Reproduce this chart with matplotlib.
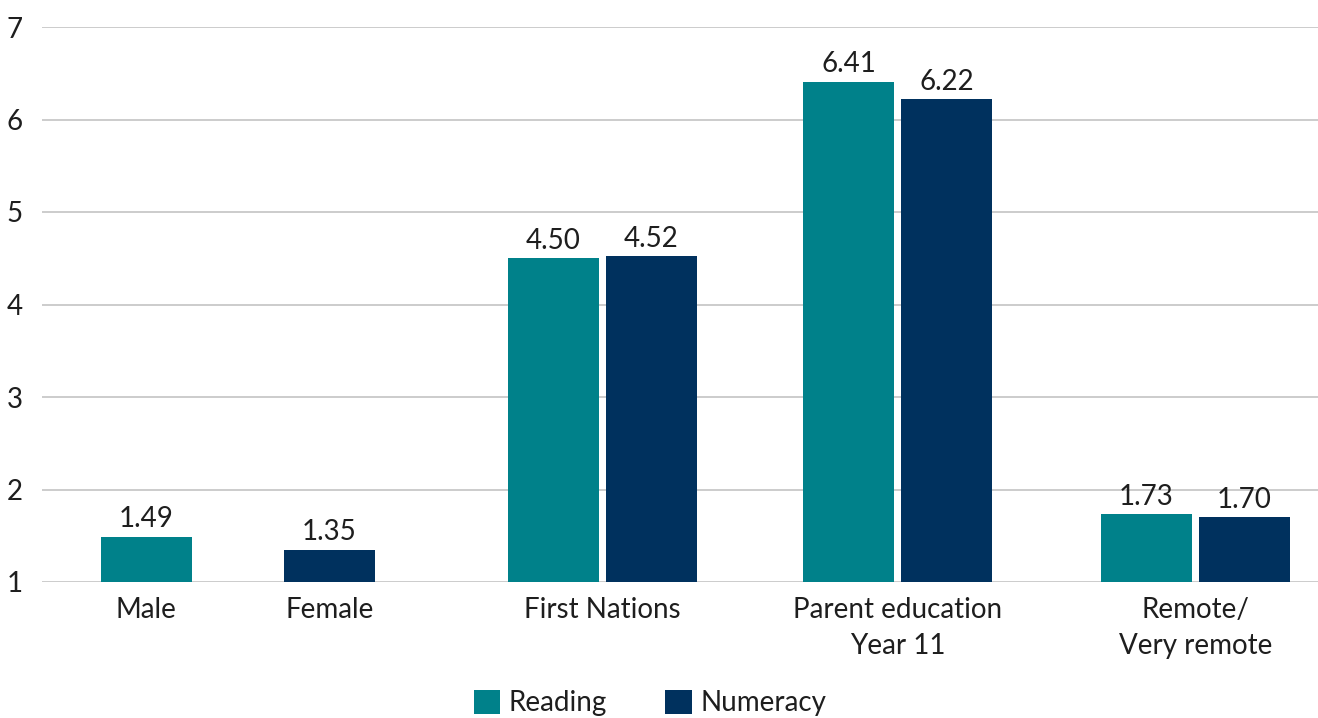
import matplotlib
matplotlib.use("Agg")
import matplotlib.pyplot as plt
from matplotlib.patches import Patch

categories = ["Male", "Female", "First Nations", "Parent education\nYear 11", "Remote/\nVery remote"]
reading = [1.49, None, 4.50, 6.41, 1.73]
numeracy = [None, 1.35, 4.52, 6.22, 1.70]
yticks = [1, 2, 3, 4, 5, 6, 7]

TEAL = "#00818A"
NAVY = "#00315E"
TXT = "#1e1e1e"
FONT = ["Lato", "DejaVu Sans"]
FS = 20
plt.rcParams["font.family"] = FONT

W, H = 1318, 718
fig = plt.figure(figsize=(W / 100, H / 100), dpi=100)
left_px, right_px, top_px, bot_px = 42, 1318, 27, 582
ax = fig.add_axes([left_px / W, 1 - bot_px / H, (right_px - left_px) / W, (bot_px - top_px) / H])

# group centres in pixel-like units (relative to axes left)
centres = [146 - left_px, 329.5 - left_px, 602.5 - left_px, 897.5 - left_px, 1195.5 - left_px]
bw = 91
off = 49

for c, r, n in zip(centres, reading, numeracy):
    if r is not None and n is not None:
        pos = [(c - off, r, TEAL), (c + off, n, NAVY)]
    elif r is not None:
        pos = [(c, r, TEAL)]
    else:
        pos = [(c, n, NAVY)]
    for x, v, col in pos:
        ax.bar(x, v - 1, bottom=1, width=bw, color=col, zorder=3)
        ax.text(x, v + 0.05, f"{v:.2f}", ha="center", va="bottom", fontsize=FS,
                color=TXT, zorder=4)

ax.set_xlim(0, right_px - left_px)
ax.set_ylim(1, 7)
ax.set_yticks(yticks)
ax.set_yticklabels([str(t) for t in yticks], fontsize=FS, color=TXT)
ax.set_xticks(centres)
ax.set_xticklabels(categories, fontsize=FS, color=TXT, linespacing=1.45)
ax.tick_params(axis="both", length=0)
ax.tick_params(axis="y", pad=14)
ax.tick_params(axis="x", pad=11)
for lab in ax.get_yticklabels():
    lab.set_horizontalalignment("right")
ax.grid(axis="y", color="#c8c8c8", linewidth=1.3, zorder=0)
ax.set_axisbelow(True)
for s in ax.spines.values():
    s.set_visible(False)

handles = [Patch(facecolor=TEAL, label="Reading"), Patch(facecolor=NAVY, label="Numeracy")]
fig.legend(handles=handles, loc="center", bbox_to_anchor=(650 / W, 1 - 703 / H), ncol=2,
           frameon=False, fontsize=FS, handlelength=0.95, handleheight=0.95,
           handletextpad=0.3, columnspacing=2.1, labelcolor=TXT)

fig.savefig("out.png", dpi=100, facecolor="white")
